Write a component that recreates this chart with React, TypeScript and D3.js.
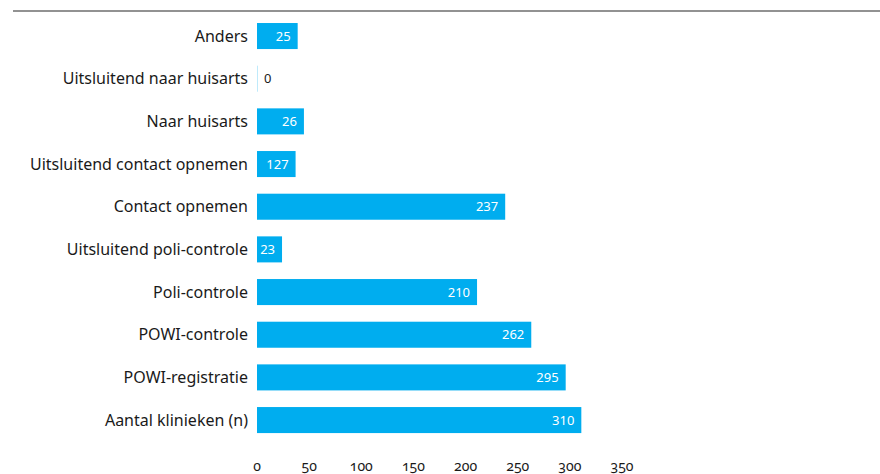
import React from "react";
import * as d3 from "d3";

const categories = [
  "Anders",
  "Uitsluitend naar huisarts",
  "Naar huisarts",
  "Uitsluitend contact opnemen",
  "Contact opnemen",
  "Uitsluitend poli-controle",
  "Poli-controle",
  "POWI-controle",
  "POWI-registratie",
  "Aantal klinieken (n)",
];
// bar lengths as drawn in the reference
const barValues = [39, 0, 45, 37, 238, 24, 211, 263, 296, 311];
// value labels as printed in the reference
const valueLabels = ["25", "0", "26", "127", "237", "23", "210", "262", "295", "310"];
const tickValues = [0, 50, 100, 150, 200, 250, 300, 350];

const W = 880;
const H = 474;
const BLUE = "#00adef";
const FONT = "'Noto Sans', 'Open Sans', sans-serif";

export default function App() {
  const x = d3.scaleLinear().domain([0, 350]).range([257, 622]);
  const y = d3
    .scaleBand<string>()
    .domain(categories)
    .range([14.7, 441.4])
    .paddingInner(0.39)
    .paddingOuter(0.195);
  const bw = y.bandwidth();

  return (
    <svg
      width={W}
      height={H}
      style={{ position: "absolute", left: 0, top: 0, display: "block" }}
      fontFamily={FONT}
    >
      <rect width={W} height={H} fill="#fff" />
      <line x1={13} x2={W} y1={11} y2={11} stroke="#6e6e6e" strokeWidth={1.6} />
      {categories.map((c, i) => {
        const v = barValues[i];
        const y0 = y(c)!;
        const w = x(v) - x(0);
        const cy = y0 + bw / 2;
        return (
          <g key={c}>
            <text
              x={248}
              y={cy}
              dy="0.35em"
              textAnchor="end"
              fontSize={16}
              fill="#1a1a1a"
            >
              {c}
            </text>
            {v > 0 ? (
              <rect x={x(0)} y={y0} width={w} height={bw} fill={BLUE} />
            ) : (
              <rect x={x(0)} y={y0} width={1} height={bw} fill={BLUE} opacity={0.25} />
            )}
            {v > 0 ? (
              <text
                x={x(v) - 7}
                y={cy}
                dy="0.36em"
                textAnchor="end"
                fontSize={13}
                fill="#fff"
              >
                {valueLabels[i]}
              </text>
            ) : (
              <text
                x={x(0) + 7}
                y={cy}
                dy="0.36em"
                textAnchor="start"
                fontSize={13}
                fill="#1a1a1a"
              >
                {valueLabels[i]}
              </text>
            )}
          </g>
        );
      })}
      {tickValues.map((t) => (
        <text
          key={t}
          x={x(t)}
          y={471}
          textAnchor="middle"
          fontSize={14}
          fill="#1a1a1a"
          style={{ fontVariantNumeric: "oldstyle-nums" }}
        >
          {t}
        </text>
      ))}
    </svg>
  );
}
